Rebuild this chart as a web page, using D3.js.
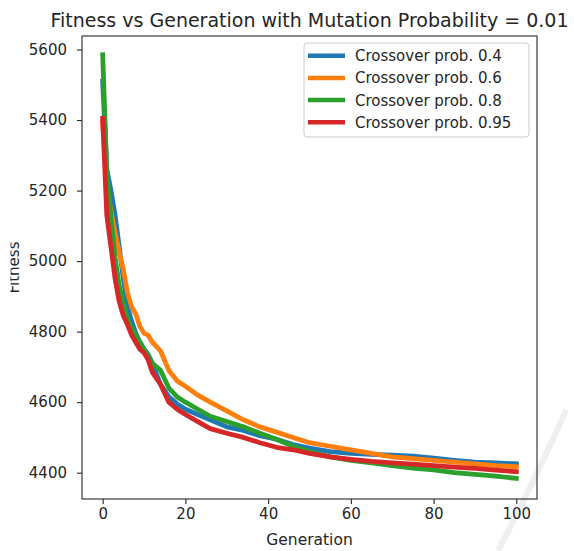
<!DOCTYPE html>
<html>
<head>
<meta charset="utf-8">
<script src="https://cdn.jsdelivr.net/npm/d3@7"></script>
<style>
  html, body { margin: 0; padding: 0; background: #fff; }
  svg { display: block; font-family: "DejaVu Sans", sans-serif; }
</style>
</head>
<body>
<svg id="chart" width="574" height="551"></svg>
<script>
// ---- data ----
const title = "Fitness vs Generation with Mutation Probability = 0.01";
const xLabel = "Generation";
const yLabel = "Fitness";
const seriesNames = ["Crossover prob. 0.4", "Crossover prob. 0.6", "Crossover prob. 0.8", "Crossover prob. 0.95"];
const seriesColors = ["#1f77b4", "#ff7f0e", "#2ca02c", "#d62728"];
const xTicks = [0, 20, 40, 60, 80, 100];
const yTicks = [4400, 4600, 4800, 5000, 5200, 5400, 5600];

const gens = [0,1,2,3,4,5,6,7,8,9,10,11,12,14,16,18,20,23,26,30,34,38,42,46,50,55,60,65,70,75,80,85,90,95,100];
const fitness04  = [5510,5260,5200,5130,5040,4950,4870,4830,4795,4770,4750,4735,4710,4650,4615,4595,4580,4565,4550,4530,4520,4505,4495,4480,4470,4460,4455,4452,4450,4447,4441,4435,4430,4428,4425];
const fitness06  = [5395,5210,5140,5080,5025,4975,4910,4870,4850,4815,4795,4790,4770,4745,4690,4660,4645,4620,4600,4575,4550,4530,4515,4500,4485,4475,4465,4455,4445,4440,4435,4430,4425,4420,4417];
const fitness08  = [5585,5250,5120,5010,4930,4880,4835,4810,4790,4770,4750,4730,4710,4690,4640,4615,4600,4580,4560,4545,4530,4512,4495,4475,4460,4445,4435,4428,4420,4413,4408,4400,4395,4390,4384];
const fitness095 = [5405,5130,5040,4950,4885,4845,4820,4790,4770,4750,4740,4720,4685,4650,4600,4580,4565,4545,4525,4512,4500,4485,4472,4465,4455,4445,4438,4432,4428,4424,4420,4416,4412,4407,4403];
const seriesValues = [fitness04, fitness06, fitness08, fitness095];

// ---- layout ----
const svg = d3.select("#chart");
const L = 82, R = 537, T = 36, B = 499;
const textColor = "#262626";

const x = d3.scaleLinear().domain([-5, 105]).range([L, R]);
const y = d3.scaleLinear().domain([4325.4, 5638.3]).range([B, T]);

// watermark (faint)
svg.append("path")
  .attr("d", "M566,410 Q540,470 498,551")
  .attr("fill", "none").attr("stroke", "#efefef").attr("stroke-width", 6);

// clip for plot area
svg.append("clipPath").attr("id", "plotclip")
  .append("rect").attr("x", L).attr("y", T).attr("width", R - L).attr("height", B - T);

// lines
const line = d3.line().x((d, i) => x(gens[i])).y(d => y(d));
const g = svg.append("g").attr("clip-path", "url(#plotclip)");
seriesValues.forEach((vals, i) => {
  g.append("path")
    .datum(vals)
    .attr("d", line)
    .attr("fill", "none")
    .attr("stroke", seriesColors[i])
    .attr("stroke-width", 4.8)
    .attr("stroke-linejoin", "round")
    .attr("stroke-linecap", "square");
});

// axes
const xAxis = svg.append("g").attr("transform", `translate(0,${B})`)
  .call(d3.axisBottom(x).tickValues(xTicks).tickSize(5).tickPadding(4).tickFormat(d3.format("d")));
const yAxis = svg.append("g").attr("transform", `translate(${L},0)`)
  .call(d3.axisLeft(y).tickValues(yTicks).tickSize(5).tickPadding(10).tickFormat(d3.format("d")));
[xAxis, yAxis].forEach(a => {
  a.select(".domain").remove();
  a.selectAll(".tick line").attr("stroke", textColor).attr("stroke-width", 1.1);
  a.selectAll(".tick text").attr("fill", textColor).style("font-size", "15px")
    .style("font-family", "DejaVu Sans, sans-serif");
});

// frame
svg.append("rect").attr("x", L).attr("y", T).attr("width", R - L).attr("height", B - T)
  .attr("fill", "none").attr("stroke", textColor).attr("stroke-width", 1.1);

// title
svg.append("text").attr("x", (L + R) / 2).attr("y", 27)
  .attr("text-anchor", "middle").attr("fill", textColor)
  .style("font-size", "19px").text(title);

// x label
svg.append("text").attr("x", (L + R) / 2).attr("y", 545)
  .attr("text-anchor", "middle").attr("fill", textColor)
  .style("font-size", "15.5px").text(xLabel);

// y label (clipped at left as in reference)
svg.append("clipPath").attr("id", "ylabclip")
  .append("rect").attr("x", 10.5).attr("y", 0).attr("width", 60).attr("height", 551);
svg.append("g").attr("clip-path", "url(#ylabclip)")
  .append("text")
  .attr("transform", `translate(19,${(T + B) / 2}) rotate(-90)`)
  .attr("text-anchor", "middle").attr("fill", textColor)
  .style("font-size", "15px").text(yLabel);

// legend
const lg = svg.append("g");
lg.append("rect").attr("x", 304).attr("y", 43).attr("width", 225).attr("height", 94)
  .attr("rx", 3).attr("fill", "#fff").attr("fill-opacity", 0.8)
  .attr("stroke", "#cccccc").attr("stroke-width", 1);
seriesNames.forEach((name, i) => {
  const yy = 55.7 + i * 22.2;
  lg.append("line").attr("x1", 308).attr("x2", 345).attr("y1", yy).attr("y2", yy)
    .attr("stroke", seriesColors[i]).attr("stroke-width", 4.5);
  lg.append("text").attr("x", 355).attr("y", yy).attr("dy", "0.36em")
    .attr("fill", textColor).style("font-size", "15px").text(name);
});
</script>
</body>
</html>
